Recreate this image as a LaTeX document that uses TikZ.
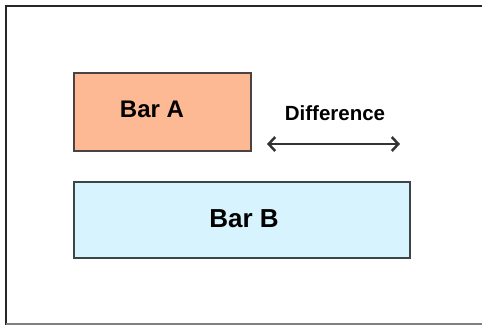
\documentclass[tikz,border=0pt]{standalone}
\usepackage{fontspec}
\setmainfont{Liberation Sans}
\usetikzlibrary{arrows.meta}
\definecolor{barA}{HTML}{FDB894}
\definecolor{barB}{HTML}{D7F3FD}
\definecolor{edgeA}{HTML}{4D4242}
\definecolor{edgeB}{HTML}{3C4646}
\definecolor{arrowc}{HTML}{333333}
\begin{document}
\begin{tikzpicture}[x=1pt,y=-1pt,
  barbox/.style={draw, line width=1.3pt, inner sep=0pt, outer sep=0pt, anchor=north west},
  barlabel/.style={font=\bfseries\fontsize{24}{27}\selectfont, anchor=base, inner sep=0pt},
  difflabel/.style={font=\bfseries\fontsize{20.5}{23}\selectfont, anchor=base, inner sep=0pt},
  diffarrow/.style={line width=2.5pt, color=arrowc,
    {Straight Barb[length=6.5pt,width=14pt]}-{Straight Barb[length=6.5pt,width=14pt]}}]
\useasboundingbox (0,0) rectangle (482,325);
\draw[line width=2pt, color=black!85] (482,6) -- (6,6) -- (6,325);
\draw[line width=1.4pt, color=black!50] (6,324) -- (482,324);
\node[barbox, fill=barA, draw=edgeA, minimum width=177pt, minimum height=78pt] (A) at (74,73) {};
\node[barbox, fill=barB, draw=edgeB, minimum width=336pt, minimum height=76pt] (B) at (74,182) {};
\node[barlabel] (la) at (152,117.7) {Bar A};
\node[barlabel, font=\bfseries\fontsize{26}{29}\selectfont] (lb) at (244,227.7) {Bar B};
\node[difflabel] (ld) at (335,120.7) {Difference};
\coordinate (d1) at (267,144);
\coordinate (d2) at (400,144);
\draw[diffarrow] (d1) -- (d2);
\end{tikzpicture}
\end{document}
